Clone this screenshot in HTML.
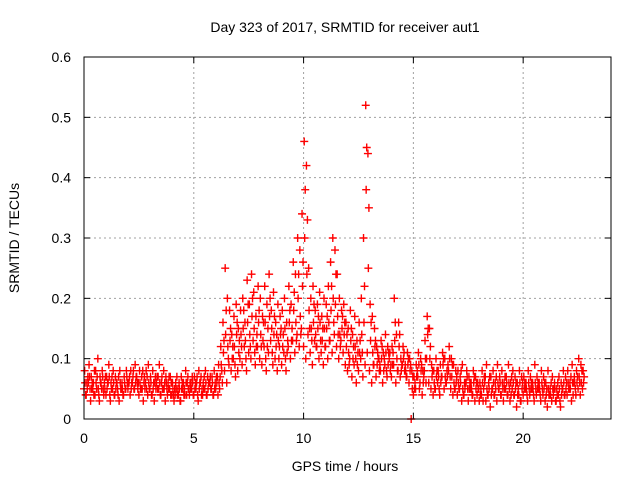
<!DOCTYPE html>
<html><head><meta charset="utf-8"><style>
html,body{margin:0;padding:0;background:#fff;}
svg{display:block;font-family:"Liberation Sans",sans-serif;}
</style></head><body>
<svg id="chart" width="640" height="480">
<text x="345" y="32" font-size="14" text-anchor="middle">Day 323 of 2017, SRMTID for receiver aut1</text>
<text x="345" y="471" font-size="14" text-anchor="middle">GPS time / hours</text>
<text transform="translate(19,238) rotate(-90)" font-size="14" text-anchor="middle">SRMTID / TECUs</text>
<g id="grid"></g>
<g id="ticks"></g>
<g id="marks"></g>
<rect x="84" y="57" width="527" height="362" fill="none" stroke="#000" stroke-width="1"/>
</svg>
<script>
const xTicks=[0,5,10,15,20];
const yTicks=[0,0.1,0.2,0.3,0.4,0.5,0.6];
const yTickLabels=["0","0.1","0.2","0.3","0.4","0.5","0.6"];
const seriesA=[.05,.04,.06,.03,.05,.04,.07,.03,.05,.04,.04,.06,.03,.05,.04,.06,.03,.05,.04,.05,.05,.04,.06,.05,.07,.04,.05,.03,.06,.04,.05,.04,.03,.06,.05,.04,.05,.03,.04,.05,.04,.03,.05,.04,.03,.05,.04,.06,.04,.05,.04,.05,.03,.06,.04,.05,.04,.06,.05,.04,.05,.04,.07,.06,.08,.06,.09,.08,.10,.07,.08,.10,.09,.12,.08,.11,.10,.13,.09,.12,.10,.09,.12,.08,.11,.13,.09,.10,.08,.12,.09,.11,.08,.12,.10,.13,.11,.14,.12,.15,.12,.10,.14,.11,.09,.13,.12,.10,.11,.09,.12,.10,.13,.11,.14,.12,.10,.13,.11,.09,.08,.10,.07,.09,.06,.08,.10,.07,.09,.11,.08,.06,.09,.07,.10,.08,.06,.09,.07,.10,.07,.09,.06,.08,.07,.09,.08,.07,.06,.00,.04,.05,.07,.06,.04,.08,.10,.06,.05,.04,.05,.06,.04,.07,.05,.06,.08,.05,.04,.05,.04,.05,.03,.04,.06,.03,.05,.04,.03,.04,.03,.04,.05,.03,.04,.02,.05,.04,.03,.05,.04,.03,.05,.04,.03,.05,.04,.02,.04,.03,.04,.05,.03,.04,.05,.03,.04,.05,.03,.04,.03,.02,.04,.03,.05,.03,.04,.02,.05,.04,.04,.05,.03,.06,.04,.05,.04,.05];
const seriesB=[.08,.06,.09,.07,.06,.08,.10,.07,.08,.06,.07,.09,.06,.08,.07,.05,.08,.06,.07,.08,.06,.08,.07,.09,.06,.08,.07,.06,.08,.09,.07,.08,.06,.07,.09,.06,.08,.07,.06,.07,.06,.05,.07,.06,.07,.06,.08,.07,.06,.07,.07,.06,.08,.07,.06,.08,.07,.06,.07,.08,.07,.09,.12,.16,.25,.20,.18,.14,.17,.19,.15,.18,.20,.16,.23,.19,.24,.21,.17,.22,.20,.17,.22,.19,.24,.18,.21,.16,.19,.17,.18,.20,.16,.22,.19,.26,.24,.30,.28,.34,.46,.42,.25,.20,.22,.18,.19,.21,.17,.20,.19,.22,.26,.30,.28,.24,.20,.18,.19,.16,.15,.18,.14,.17,.13,.16,.20,.30,.52,.44,.19,.17,.15,.12,.10,.13,.11,.14,.12,.11,.12,.20,.14,.16,.10,.12,.09,.11,.10,.08,.07,.09,.11,.10,.08,.13,.17,.15,.09,.08,.10,.08,.09,.11,.10,.08,.12,.10,.09,.08,.08,.07,.09,.06,.08,.07,.06,.08,.07,.06,.06,.08,.07,.09,.06,.07,.08,.06,.09,.07,.08,.06,.07,.09,.06,.08,.07,.06,.08,.07,.07,.06,.08,.07,.06,.09,.07,.06,.08,.07,.06,.08,.05,.07,.06,.05,.07,.06,.08,.07,.08,.06,.09,.07,.08,.10,.09,.08];
const seriesC=[.06,.05,.07,.05,.04,.06,.05,.06,.07,.05,.05,.07,.05,.06,.05,.04,.06,.05,.06,.07,.06,.05,.08,.06,.05,.06,.05,.07,.05,.06,.06,.05,.07,.05,.06,.07,.05,.06,.05,.04,.05,.04,.04,.05,.05,.04,.06,.05,.05,.06,.05,.07,.05,.04,.05,.06,.05,.07,.06,.05,.06,.06,.09,.11,.14,.12,.13,.10,.12,.14,.11,.14,.15,.13,.16,.14,.17,.15,.12,.16,.14,.13,.16,.12,.17,.15,.14,.12,.13,.14,.12,.15,.11,.16,.13,.18,.16,.20,.17,.22,.30,.24,.18,.15,.16,.14,.15,.16,.13,.15,.15,.16,.18,.20,.19,.17,.14,.15,.14,.12,.11,.13,.10,.12,.09,.11,.14,.16,.38,.25,.13,.11,.12,.09,.08,.10,.08,.11,.09,.08,.09,.13,.10,.12,.08,.10,.08,.09,.08,.05,.05,.07,.09,.08,.06,.10,.14,.10,.07,.06,.07,.07,.06,.09,.07,.07,.10,.07,.06,.06,.06,.06,.05,.05,.07,.05,.05,.06,.05,.05,.04,.06,.06,.05,.05,.04,.06,.05,.06,.06,.06,.05,.06,.06,.04,.06,.05,.04,.06,.05,.05,.05,.06,.05,.05,.06,.05,.05,.06,.05,.04,.05,.04,.05,.05,.04,.05,.04,.06,.05,.06,.05,.06,.06,.06,.07,.06,.06];
const seriesD=[.04,.07,.05,.06,.08,.05,.04,.06,.05,.07,.06,.04,.07,.04,.06,.07,.05,.04,.05,.06,.07,.06,.05,.07,.06,.05,.08,.05,.07,.05,.04,.06,.05,.07,.04,.05,.06,.05,.07,.06,.04,.06,.05,.03,.06,.05,.04,.05,.06,.04,.06,.04,.06,.05,.07,.04,.06,.05,.04,.06,.07,.05,.08,.13,.18,.10,.15,.12,.09,.16,.13,.12,.18,.10,.19,.12,.20,.11,.14,.18,.12,.16,.10,.15,.20,.11,.17,.14,.10,.15,.14,.10,.13,.18,.15,.21,.13,.24,.14,.26,.38,.33,.15,.13,.19,.12,.17,.13,.15,.12,.17,.13,.22,.16,.24,.14,.12,.17,.16,.14,.09,.15,.12,.10,.11,.13,.11,.22,.45,.35,.16,.09,.13,.11,.09,.12,.10,.08,.11,.09,.11,.16,.08,.14,.09,.11,.07,.10,.09,.07,.06,.08,.05,.09,.07,.06,.15,.12,.08,.05,.08,.05,.07,.10,.06,.09,.07,.09,.05,.07,.05,.08,.04,.06,.05,.06,.04,.07,.06,.05,.05,.03,.07,.04,.07,.05,.04,.07,.05,.04,.05,.07,.04,.05,.07,.04,.06,.05,.03,.06,.06,.04,.05,.06,.04,.05,.06,.04,.05,.06,.05,.04,.06,.04,.03,.06,.03,.05,.04,.06,.05,.07,.04,.05,.07,.06,.08,.07];
const NS='http://www.w3.org/2000/svg';
const X0=84,X1=611,Y0=419,Y1=57,XMAX=24,YMAX=0.6;
function xs(v){return X0+(X1-X0)*v/XMAX;}
function ys(v){return Y0-(Y0-Y1)*v/YMAX;}
function mk(t,a){const e=document.createElementNS(NS,t);for(const k in a)e.setAttribute(k,a[k]);return e;}
const grid=document.getElementById('grid'),ticks=document.getElementById('ticks'),marks=document.getElementById('marks');
xTicks.forEach(v=>{const x=xs(v);
 if(v>0){const g=mk('line',{x1:x,x2:x,y1:Y1,y2:Y0,stroke:'#a0a0a0','stroke-dasharray':'2,3'});grid.appendChild(g);}
 const t=mk('line',{x1:x,x2:x,y1:Y0,y2:Y0-6,stroke:'#000'});ticks.appendChild(t);
 const t2=mk('line',{x1:x,x2:x,y1:Y1,y2:Y1+6,stroke:'#000'});ticks.appendChild(t2);
 const l=mk('text',{x:x,y:443,'font-size':14,'text-anchor':'middle'});l.textContent=String(v);ticks.appendChild(l);});
yTicks.forEach((v,i)=>{const y=ys(v);
 if(v>0&&v<YMAX){const g=mk('line',{x1:X0,x2:X1,y1:y,y2:y,stroke:'#a0a0a0','stroke-dasharray':'2,3'});grid.appendChild(g);}
 const t=mk('line',{x1:X0,x2:X0+6,y1:y,y2:y,stroke:'#000'});ticks.appendChild(t);
 const t2=mk('line',{x1:X1,x2:X1-6,y1:y,y2:y,stroke:'#000'});ticks.appendChild(t2);
 const l=mk('text',{x:71,y:y+5,'font-size':14,'text-anchor':'end'});l.textContent=yTickLabels[i];ticks.appendChild(l);});
function plus(t,v,col){const x=xs(t),y=ys(v);
 const p=mk('path',{d:`M${x-4},${y}h8M${x},${y-4}v8`,stroke:col,'stroke-width':1.4,fill:'none'});
 
 
 marks.appendChild(p);}
seriesA.forEach((v,i)=>plus(i*0.1,v,'#f00'));
seriesC.forEach((v,i)=>plus(i*0.1+0.05,v,'#f00'));
seriesB.forEach((v,i)=>plus(i*0.1+0.03,v,'#f00'));
seriesD.forEach((v,i)=>plus(i*0.1+0.075,v,'#f00'));
</script>
</body></html>
